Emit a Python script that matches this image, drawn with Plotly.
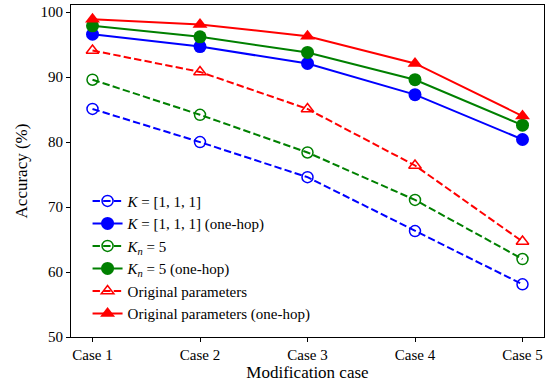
import plotly.graph_objects as go

cases = ["Case 1", "Case 2", "Case 3", "Case 4", "Case 5"]
k111 = [85.1, 80.0, 74.6, 66.3, 58.1]
k111_onehop = [96.6, 94.7, 92.1, 87.3, 80.4]
kn5 = [89.6, 84.2, 78.4, 71.1, 62.0]
kn5_onehop = [97.9, 96.2, 93.8, 89.6, 82.6]
orig = [94.1, 90.8, 85.1, 76.4, 64.7]
orig_onehop = [98.9, 98.1, 96.3, 92.1, 84.0]

series = [
    ("<i>K</i> = [1, 1, 1]", k111, "blue", "dash", "circle-open"),
    ("<i>K</i> = [1, 1, 1] (one-hop)", k111_onehop, "blue", "solid", "circle"),
    ("<i>K<sub>n</sub></i> = 5", kn5, "green", "dash", "circle-open"),
    ("<i>K<sub>n</sub></i> = 5 (one-hop)", kn5_onehop, "green", "solid", "circle"),
    ("Original parameters", orig, "red", "dash", "triangle-up-open"),
    ("Original parameters (one-hop)", orig_onehop, "red", "solid", "triangle-up"),
]

fig = go.Figure()
xs = list(range(len(cases)))
for name, vals, col, dash, sym in series:
    is_open = "open" in sym
    fig.add_trace(go.Scatter(
        x=xs, y=vals, name=name, mode="lines+markers",
        line=dict(color=col, width=2, dash="7.4px,3.2px" if dash == "dash" else "solid"),
        marker=dict(symbol=sym, size=11 if is_open else 13, color=col,
                    line=dict(color=col, width=1.5 if is_open else 0)),
    ))

font = "Liberation Serif"
fig.update_layout(
    width=553, height=386,
    margin=dict(l=71, r=9, t=5, b=49),
    paper_bgcolor="white", plot_bgcolor="white",
    font=dict(family=font, size=15, color="black"),
    showlegend=True,
    legend=dict(x=0.035, y=0.022, xanchor="left", yanchor="bottom",
                bgcolor="rgba(0,0,0,0)", font=dict(family=font, size=15),
                tracegroupgap=0, itemwidth=30),
    xaxis=dict(
        range=[-0.2, 4.2], tickmode="array", tickvals=xs, ticktext=cases,
        showgrid=False, zeroline=False, showline=True, mirror=True,
        linecolor="black", linewidth=1, ticks="outside", ticklen=4,
        tickcolor="black", tickfont=dict(family=font, size=15),
        title=dict(text="Modification case", font=dict(family=font, size=17), standoff=4),
    ),
    yaxis=dict(
        range=[50, 101.1], tickvals=[50, 60, 70, 80, 90, 100],
        showgrid=False, zeroline=False, showline=True, mirror=True,
        linecolor="black", linewidth=1, ticks="outside", ticklen=4,
        tickcolor="black", tickfont=dict(family=font, size=15),
        title=dict(text="Accuracy (%)", font=dict(family=font, size=17), standoff=8),
    ),
)

fig.write_html("out.html")
